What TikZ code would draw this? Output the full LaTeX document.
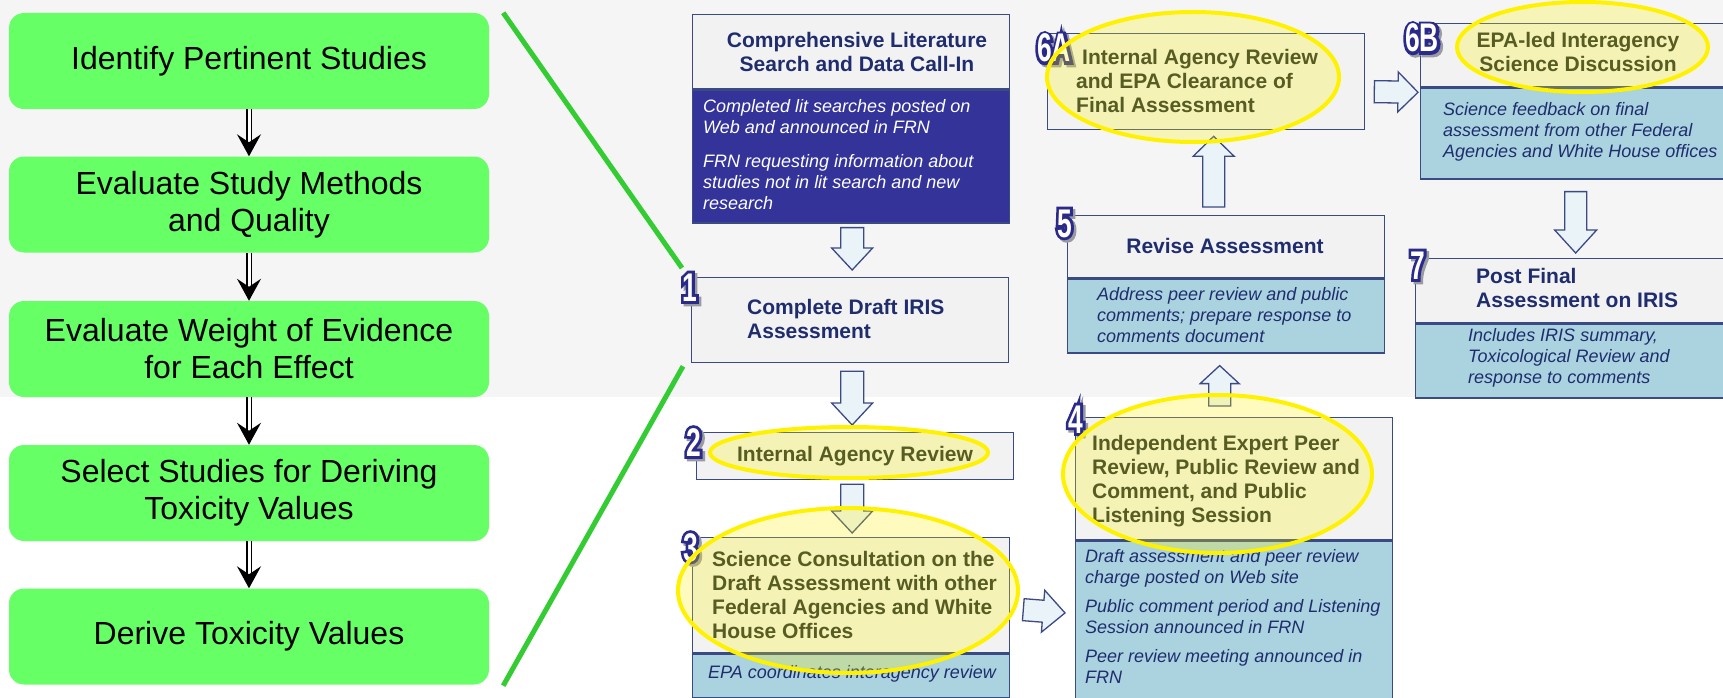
\documentclass[tikz,border=0pt]{standalone}
\usepackage{fontspec}
\setmainfont{Liberation Sans}
\newfontfamily\numreg{Liberation Sans Bold}[FakeStretch=0.66]
\newfontfamily\numbld{Liberation Sans Bold}[FakeStretch=0.66,FakeBold=14]
\usetikzlibrary{arrows.meta,calc}
\definecolor{bandc}{HTML}{F5F5F5}
\definecolor{lgreen}{HTML}{66FF66}
\definecolor{glinec}{HTML}{33CC33}
\definecolor{hdrc}{HTML}{F2F2F2}
\definecolor{bordc}{HTML}{3A4A82}
\definecolor{navyc}{HTML}{1F2D6E}
\definecolor{hltxtc}{HTML}{1E2A2E}
\definecolor{numc}{HTML}{2A2A8A}
\definecolor{dbluec}{HTML}{333399}
\definecolor{bluec}{HTML}{AAD3DF}
\definecolor{arrc}{HTML}{EAF3F8}
\definecolor{shadc}{HTML}{9A9AA2}
\newcommand\stepnum[1]{%
  \makebox[0pt][l]{\hspace{2.5pt}\raisebox{-2.5pt}{\textcolor{shadc}{\numbld #1}}}%
  \makebox[0pt][l]{\textcolor{numc}{\numbld #1}}%
  \textcolor{white}{\numreg #1}}
\tikzset{
  gbox/.style={rectangle, rounded corners=15pt, fill=lgreen, minimum width=480pt,
    minimum height=96pt, font=\fontsize{32}{37}\selectfont, align=center, inner sep=0pt},
  dbl/.style={draw=black, double=white, double distance=3pt, line width=1.4pt,
    -{Stealth[length=22pt,width=24pt,inset=8pt]}},
  gline/.style={draw=glinec, line width=5pt},
  hdr/.style={rectangle, draw=bordc, line width=1.3pt, fill=hdrc, anchor=north west, inner sep=0pt},
  bdy/.style={hdr, fill=bluec},
  htxt/.style={font=\bfseries\fontsize{21}{24}\selectfont, text=navyc, align=left, inner sep=0pt, anchor=west},
  hltxt/.style={htxt, text=hltxtc},
  btxt/.style={font=\itshape\fontsize{18}{21}\selectfont, text=navyc, align=left, inner sep=0pt, anchor=west},
  numlab/.style={font=\fontsize{40}{40}\selectfont, inner sep=0pt, anchor=base west},
  hl/.style={draw=yellow, line width=4pt, fill=yellow, fill opacity=0.25},
  barrow/.style={draw=bordc, line width=1.3pt, fill=arrc},
  blk/.style n args={3}{to path={
    let \p1=(\tikztostart), \p2=(\tikztotarget),
        \n1={veclen(\x2-\x1,\y2-\y1)},
        \n2={(\x2-\x1)/\n1}, \n3={(\y2-\y1)/\n1}
    in ({\x1-(\n3)*#1},{\y1+(\n2)*#1})
    -- ({\x2-(\n2)*#3-(\n3)*#1},{\y2-(\n3)*#3+(\n2)*#1})
    -- ({\x2-(\n2)*#3-(\n3)*#2},{\y2-(\n3)*#3+(\n2)*#2})
    -- (\p2)
    -- ({\x2-(\n2)*#3+(\n3)*#2},{\y2-(\n3)*#3-(\n2)*#2})
    -- ({\x2-(\n2)*#3+(\n3)*#1},{\y2-(\n3)*#3-(\n2)*#1})
    -- ({\x1+(\n3)*#1},{\y1-(\n2)*#1}) -- cycle}},
}
\begin{document}
\begin{tikzpicture}[x=1pt,y=-1pt]
\useasboundingbox (0,0) rectangle (1723,698);
\fill[white] (0,0) rectangle (1723,698);
\fill[bandc] (0,0) rectangle (1723,397);

% left column
\node[gbox] (g1) at (249,61) {Identify Pertinent Studies};
\node[gbox] (g2) at (249,204.5) {Evaluate Study Methods\\and Quality};
\node[gbox] (g3) at (249,349) {Evaluate Weight of Evidence\\for Each Effect};
\node[gbox] (g4) at (249,493) {Select Studies for Deriving\\Toxicity Values};
\node[gbox] (g5) at (249,636.5) {Derive Toxicity Values};
\draw[dbl] (g1) -- (g2);
\draw[dbl] (g2) -- (g3);
\draw[dbl] (g3) -- (g4);
\draw[dbl] (g4) -- (g5);

% right boxes
\node[hdr, minimum width=317pt, minimum height=74pt] (c0h) at (692,14) {};
\node[hdr, fill=dbluec, minimum width=317pt, minimum height=133pt] (c0b) at (c0h.south west) {};
\node[hdr, minimum width=317pt, minimum height=85pt] (c1) at (691,277) {};
\node[hdr, minimum width=317pt, minimum height=47pt] (c2) at (696,432) {};
\node[hdr, minimum width=317pt, minimum height=115pt] (c3h) at (692,537) {};
\node[bdy, minimum width=317pt, minimum height=44pt] (c3b) at (c3h.south west) {};
\node[hdr, minimum width=317pt, minimum height=122pt] (c4h) at (1075,417) {};
\node[bdy, minimum width=317pt, minimum height=165pt] (c4b) at (c4h.south west) {};
\node[hdr, minimum width=317pt, minimum height=62pt] (c5h) at (1067,215) {};
\node[bdy, minimum width=317pt, minimum height=74pt] (c5b) at (c5h.south west) {};
\node[hdr, minimum width=317pt, minimum height=96pt] (c6a) at (1047,33) {};
\node[hdr, minimum width=317pt, minimum height=63pt] (c6bh) at (1420,23) {};
\node[bdy, minimum width=317pt, minimum height=91pt] (c6bb) at (c6bh.south west) {};
\node[hdr, minimum width=317pt, minimum height=64pt] (c7h) at (1415,258) {};
\node[bdy, minimum width=317pt, minimum height=74pt] (c7b) at (c7h.south west) {};

% zoom lines
\draw[gline] ($(g1.north east)+(14,0)$) -- ($(c1.north west)+(-9,-9)$);
\draw[gline] ($(c1.south west)+(-8,3)$) -- ($(g5.south east)+(14,1)$);

% block arrows
\draw[barrow, blk={11.5}{20.5}{22}] ($(c0b.south)+(1,4)$) to ($(c1.north)+(2,-7)$);
\draw[barrow, blk={11.5}{20.5}{22}] ($(c1.south)+(2,8)$) to ($(c2.north)+(-3,-7)$);
\draw[barrow, blk={11.5}{20.5}{22}] ($(c2.south)+(-3,4)$) to ($(c3h.north)+(1,-4)$);
\draw[barrow, blk={11}{21}{22}] ($(c3h.east)+(13,14.5)$) to ($(c4b.west)+(-10,-10.5)$);
\draw[barrow, blk={11}{19.5}{18}] ($(c4h.north)+(-14.5,-11)$) to ($(c5b.south)+(-6.5,12)$);
\draw[barrow, blk={11}{20.5}{20}] ($(c5h.north)+(-12.5,-8)$) to ($(c6a.south)+(7.5,6)$);
\draw[barrow, blk={11}{20}{20}] ($(c6a.east)+(9,10)$) to ($(c6bh.south west)+(-2,5)$);
\draw[barrow, blk={11}{21}{23}] ($(c6bb.south)+(-3.5,12)$) to ($(c7h.north)+(1.5,-5)$);

% texts
\node[htxt, anchor=center, align=center] (t0h) at (857,52) {Comprehensive Literature\\Search and Data Call-In};
\node[btxt, text=white] (t0b) at (703,155) {Completed lit searches posted on\\Web and announced in FRN\\[13pt]FRN requesting information about\\studies not in lit search and new\\research};
\node[htxt] (t1) at (747,319) {Complete Draft IRIS\\Assessment};
\node[hltxt, anchor=center] (t2) at (855,456) {Internal Agency Review};
\node[hltxt] (t3h) at (712,595) {Science Consultation on the\\Draft Assessment with other\\Federal Agencies and White\\House Offices};
\node[btxt] (t3b) at (708,674) {EPA coordinates interagency review};
\node[hltxt] (t4h) at (1092,481) {Independent Expert Peer\\Review, Public Review and\\Comment, and Public\\Listening Session};
\node[btxt, anchor=north west] (t4b) at (1085,549) {Draft assessment and peer review\\charge posted on Web site\\[8pt]Public comment period and Listening\\Session announced in FRN\\[8pt]Peer review meeting announced in\\FRN};
\node[htxt, anchor=center] (t5h) at (1225,246) {Revise Assessment};
\node[btxt] (t5b) at (1097,315) {Address peer review and public\\comments; prepare response to\\comments document};
\node[hltxt] (t6a) at (1076,81) {\hspace{6pt}Internal Agency Review\\and EPA Clearance of\\Final Assessment};
\node[hltxt, anchor=center, align=center] (t6bh) at (1578,52) {EPA-led Interagency\\Science Discussion};
\node[btxt] (t6bb) at (1443,132) {Science feedback on final\\assessment from other Federal\\Agencies and White House offices};
\node[htxt] (t7h) at (1476,288) {Post Final\\Assessment on IRIS};
\node[btxt] (t7b) at (1468,358) {Includes IRIS summary,\\Toxicological Review and\\response to comments};

% step numbers
\node[numlab] (n1) at (682,301) {\stepnum{1}};
\node[numlab] (n2) at (686,456) {\stepnum{2}};
\node[numlab] (n3) at (683,561) {\stepnum{3}};
\node[numlab] (n4) at (1068,433) {\stepnum{4}};
\node[numlab] (n5) at (1057,237) {\stepnum{5}};
\node[numlab] (n6a) at (1037,62) {\stepnum{6A}};
\node[numlab] (n6b) at (1405,52) {\stepnum{6B}};
\node[numlab] (n7) at (1410,279) {\stepnum{7}};

% highlight ellipses
\draw[hl] (849,452.5) ellipse [x radius=139pt, y radius=25.5pt];
\draw[hl] (848,590.5) ellipse [x radius=170pt, y radius=82.5pt];
\draw[hl] (1217.5,474) ellipse [x radius=154.5pt, y radius=79pt];
\draw[hl] (1193,77) ellipse [x radius=146pt, y radius=65pt];
\draw[hl] (1582.5,47) ellipse [x radius=125.5pt, y radius=45pt];
\end{tikzpicture}
\end{document}
